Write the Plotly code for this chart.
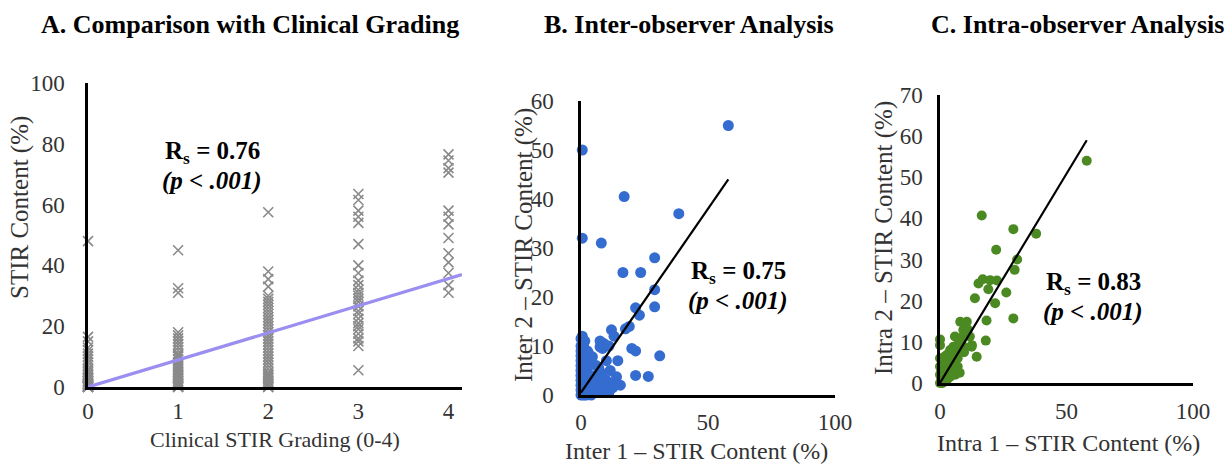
import plotly.graph_objects as go

W, H = 1229, 465

# ---------------- Panel A data ----------------
grade0 = [0, 0, 0, 0, 0.2, 0.3, 0.5, 0.5, 0.8, 1, 1, 1.2, 1.5, 2, 2, 2.5, 3, 3, 3.5, 4, 4.5, 5,
          5.5, 6, 7, 8, 9, 10, 11, 12, 13, 15, 16.5, 48]
grade1 = [0, 0, 0.3, 0.5, 1, 1, 1.5, 2, 2.5, 3, 3.5, 4, 4.5, 5, 5.5, 6, 6.5, 7, 7.5, 8, 9, 10,
          10.5, 11, 12, 13, 14, 15, 16, 17, 18, 31, 32.5, 45]
grade2 = [0, 0, 0.5, 1, 1.5, 2, 2.5, 3, 3.5, 4, 4.5, 5, 6, 7, 8, 9, 10, 11, 12, 13, 14, 15, 16,
          17, 18, 19, 20, 21, 22, 23, 24, 25, 26, 27, 28, 29, 30, 33, 35.5, 38, 57.5]
grade3 = [5.5, 13.5, 15, 16, 17.5, 19, 20, 21, 22.5, 24, 25, 26.5, 28, 29, 30, 31, 32, 33.5, 35,
          37.5, 40, 47, 54, 56, 58, 61.5, 63.5]
grade4 = [31, 33.5, 37.5, 41, 44, 49, 53.5, 56, 58, 70.5, 72, 74.5, 76.5]
a_fit_x = [0, 4.15]
a_fit_y = [0, 37]

# ---------------- Panel B data ----------------
b_x = [58, 0.5, 0.5, 8, 17, 38.5, 29, 16.5, 23.5, 29, 29, 21.5, 23, 19, 17.5, 31, 21.5, 26.5,
       14.5, 20, 21.5, 12, 9, 7.5, 8.5, 7.5, 14, 15.5, 11.5, 10, 4.5, 6, 5, 9, 12, 13, 3, 4, 2,
       6, 7, 8, 10, 11, 13, 0, 0, 0, 0, 0, 0, 0, 0, 0, 0, 0, 0, 0.5, 0.5, 0.5, 1, 1, 1, 1, 1.5,
       1.5, 2, 2, 2.5, 2.5, 3, 3, 3.5, 4, 4, 5, 5.5, 6.5, 7, 9.5, 11, 12.5, 1, 2, 3, 0.5]
b_y = [55, 50, 32, 31, 40.5, 37, 28, 25, 25, 21.5, 18, 17.8, 16.3, 14, 13.5, 8, 4, 3.8,
       7, 9.5, 9, 13.3, 10.5, 9.8, 9.5, 11, 3.7, 2, 5, 3, 7.8, 6, 1, 0.5, 1.5, 2.5, 2, 3, 4.5,
       3.5, 2, 4.5, 7, 10, 12, 0, 1, 2, 3, 4, 5, 6, 7, 8, 9, 10, 11.5, 0.5, 2.5, 6.5, 0, 1.5, 4,
       8, 2, 11, 0, 5, 1, 9, 0.5, 6, 2.5, 0, 4, 2, 0.5, 1, 5.5, 1.5, 0.5, 1.5, 10, 7, 8.5, 12]
b_fit_x = [0, 58]
b_fit_y = [0.5, 44]

# ---------------- Panel C data ----------------
c_x = [58, 16.5, 29, 38, 22.2, 30.5, 29.5, 15.2, 16.9, 19.8, 22.5, 19.1, 26.2, 13.8, 21.8,
       18.4, 29, 18.1, 14.5, 12.6, 8, 10.6, 0, 0, 9.2, 11.8, 5.9, 5.3, 12.5, 2.6, 5.3, 7.8,
       0, 0, 0, 0, 0.5, 0.5, 1, 1, 1, 1.5, 2, 2, 2.5, 3, 3, 3.5, 4, 4, 4.5, 5, 6, 6.5, 7, 7.5,
       8, 8.5, 9, 10, 11, 3, 1.5, 6, 0.5, 2, 4, 7, 9.5]
c_y = [54, 40.7, 37.4, 36.3, 32.4, 30, 27.5, 24.2, 25.2, 25, 24.9, 22.8, 22, 20.6, 19.4,
       15.2, 15.7, 10.3, 6.4, 9.2, 14.9, 14.9, 10.6, 9.2, 12.9, 11.3, 11.3, 8.8, 8.8, 6.4, 4.8,
       2.5, 0, 2, 4, 6, 1, 3, 0, 2, 5, 1, 3, 6.5, 2, 4, 7, 3, 5, 8, 6, 4, 7, 9, 6, 10, 8, 11, 9,
       12, 13, 1, 0.5, 2, 0, 1, 1.5, 4, 7.5]
c_fit_x = [0, 58]
c_fit_y = [0, 59]


def fx(px):
    return px / W


def fy(py):
    return 1 - py / H


FONT = "Liberation Serif"
fig = go.Figure()

# Panel A
for g, vals in enumerate([grade0, grade1, grade2, grade3, grade4]):
    fig.add_trace(go.Scatter(
        x=[g] * len(vals), y=vals, mode="markers", xaxis="x", yaxis="y",
        marker=dict(symbol="x-thin", size=10, line=dict(color="#8a8a8a", width=1.6)),
        cliponaxis=False, showlegend=False))
fig.add_trace(go.Scatter(x=a_fit_x, y=a_fit_y, mode="lines", xaxis="x", yaxis="y",
                         line=dict(color="#9a8ef0", width=3.2), showlegend=False,
                         cliponaxis=False))

# Panel B
fig.add_trace(go.Scatter(x=b_x, y=b_y, mode="markers", xaxis="x2", yaxis="y2",
                         marker=dict(size=11, color="#356cd0"), cliponaxis=False,
                         showlegend=False))
fig.add_trace(go.Scatter(x=b_fit_x, y=b_fit_y, mode="lines", xaxis="x2", yaxis="y2",
                         line=dict(color="black", width=2.2), showlegend=False,
                         cliponaxis=False))

# Panel C
fig.add_trace(go.Scatter(x=c_x, y=c_y, mode="markers", xaxis="x3", yaxis="y3",
                         marker=dict(size=10, color="#4b8a22"), cliponaxis=False,
                         showlegend=False))
fig.add_trace(go.Scatter(x=c_fit_x, y=c_fit_y, mode="lines", xaxis="x3", yaxis="y3",
                         line=dict(color="black", width=2.2), showlegend=False,
                         cliponaxis=False))

tickfont = dict(family=FONT, size=23, color="#333")
axcommon = dict(showgrid=False, zeroline=False, showline=True, linecolor="black",
                linewidth=2.5, ticks="", tickfont=tickfont, fixedrange=True,
                automargin=False)

fig.update_layout(
    width=W, height=H, margin=dict(l=0, r=0, t=0, b=0, autoexpand=False),
    paper_bgcolor="white", plot_bgcolor="white",
    xaxis=dict(domain=[fx(88), fx(462)], range=[0, 4.15], tickvals=[0, 1, 2, 3, 4],
               anchor="y", ticklabelstandoff=2, **axcommon),
    yaxis=dict(domain=[fy(387), fy(83)], range=[0, 100], tickvals=[0, 20, 40, 60, 80, 100],
               anchor="x", ticklabelstandoff=16, **axcommon),
    xaxis2=dict(domain=[fx(581), fx(835)], range=[0, 100], tickvals=[0, 50, 100],
                anchor="y2", ticklabelstandoff=5, **axcommon),
    yaxis2=dict(domain=[fy(395), fy(101)], range=[0, 60], tickvals=[0, 10, 20, 30, 40, 50, 60],
                anchor="x2", ticklabelstandoff=20, **axcommon),
    xaxis3=dict(domain=[fx(940), fx(1193)], range=[0, 100], tickvals=[0, 50, 100],
                anchor="y3", ticklabelstandoff=6, **axcommon),
    yaxis3=dict(domain=[fy(383), fy(95)], range=[0, 70], tickvals=[0, 10, 20, 30, 40, 50, 60, 70],
                anchor="x3", ticklabelstandoff=10, **axcommon),
)

ann = []
titlefont = dict(family=FONT, size=26, color="black")
for text, cx in [("<b>A. Comparison with Clinical Grading</b>", 250),
                 ("<b>B. Inter-observer Analysis</b>", 689),
                 ("<b>C. Intra-observer Analysis</b>", 1077)]:
    ann.append(dict(text=text, x=fx(cx), y=fy(24), xref="paper", yref="paper",
                    showarrow=False, font=titlefont, xanchor="center", yanchor="middle"))

for text, cx, cy, sz in [("Clinical STIR Grading (0-4)", 275, 439, 22),
                         ("Inter 1 \u2013 STIR Content (%)", 697, 451, 24),
                         ("Intra 1 \u2013 STIR Content (%)", 1068, 443, 24)]:
    ann.append(dict(text=text, x=fx(cx), y=fy(cy), xref="paper", yref="paper",
                    showarrow=False, font=dict(family=FONT, size=sz, color="#333"),
                    xanchor="center", yanchor="middle"))
for text, cx, cy in [("STIR Content (%)", 20, 208),
                     ("Inter 2 \u2013 STIR Content (%)", 524, 245),
                     ("Intra 2 \u2013 STIR Content (%)", 884, 238)]:
    ann.append(dict(text=text, x=fx(cx), y=fy(cy), xref="paper", yref="paper",
                    showarrow=False, font=dict(family=FONT, size=25, color="#333"),
                    textangle=-90, xanchor="center", yanchor="middle"))

statfont = dict(family=FONT, size=25, color="black")
for rs, cx, cy in [("0.76", 212, 152), ("0.75", 738, 272), ("0.83", 1093, 283)]:
    ann.append(dict(text="<b>R<sub>s</sub> = " + rs + "</b>", x=fx(cx), y=fy(cy),
                    xref="paper", yref="paper", showarrow=False, font=statfont,
                    xanchor="center", yanchor="middle"))
    ann.append(dict(text="<b><i>(p < .001)</i></b>", x=fx(cx), y=fy(cy + 29),
                    xref="paper", yref="paper", showarrow=False, font=statfont,
                    xanchor="center", yanchor="middle"))

fig.update_layout(annotations=ann)
fig.write_html("out.html")
